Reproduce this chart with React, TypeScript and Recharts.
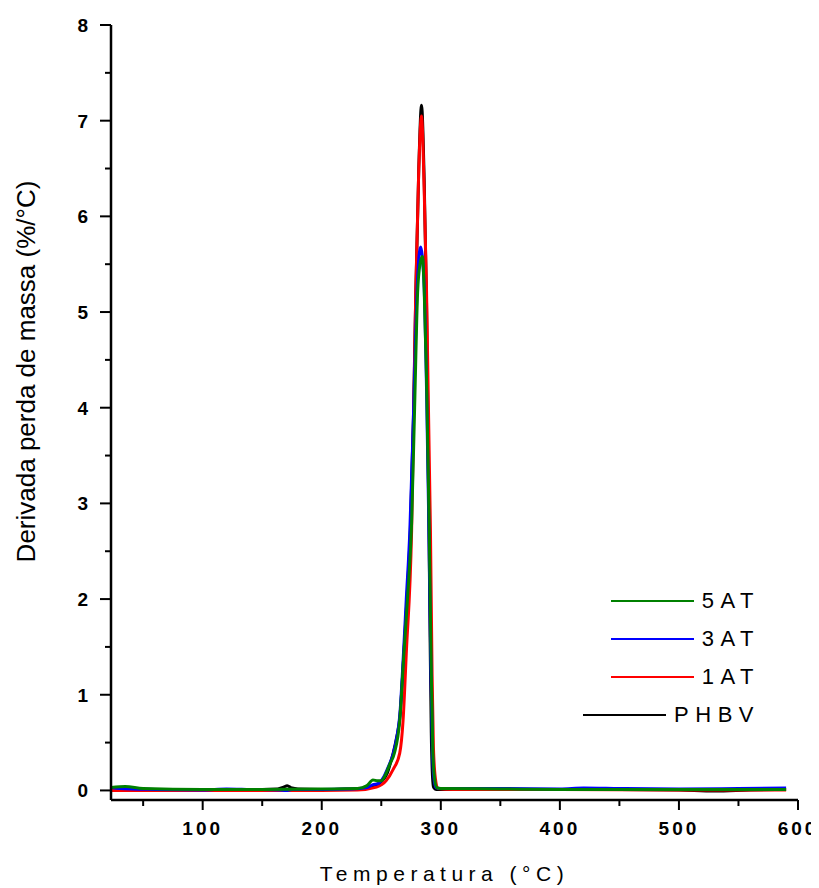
import React from "react";
import { LineChart, Line, XAxis, YAxis, Legend } from "recharts";

// ---------- data ----------
const phbvT = [23, 30, 50, 80, 100, 130, 150, 163, 168, 171, 175, 180, 200, 220, 235, 245, 250, 255, 258, 260, 263, 265.5, 269, 272, 274.5, 277, 279, 281.5, 283.8, 286, 288, 289, 290, 291, 292, 293, 294, 296, 300, 320, 350, 400, 450, 500, 530, 560, 590];
const phbvV = [0.02, 0.02, 0.01, 0.01, 0.01, 0.01, 0.01, 0.015, 0.035, 0.05, 0.025, 0.015, 0.01, 0.015, 0.02, 0.05, 0.09, 0.18, 0.3, 0.39, 0.56, 0.75, 1.43, 2.1, 2.75, 3.9, 5.2, 6.5, 7.16, 6.4, 5.1, 4.0, 2.8, 1.6, 0.6, 0.15, 0.03, 0.01, 0.01, 0.01, 0.01, 0.01, 0.01, 0.005, -0.005, 0.005, 0.01];

const at1T = [23, 50, 100, 150, 200, 230, 246, 254, 260, 265.5, 268.3, 271, 275.5, 279, 281.5, 283.8, 286, 288, 291.3, 292.7, 293.8, 295.5, 297.5, 310, 400, 500, 590];
const at1V = [0.0, 0.0, 0.0, 0.0, 0.0, 0.005, 0.035, 0.1, 0.22, 0.39, 0.73, 1.43, 2.72, 5.23, 6.5, 7.05, 6.3, 5.23, 2.72, 1.2, 0.45, 0.12, 0.02, 0.01, 0.01, 0.005, 0.005];

const at3T = [23, 30, 60, 100, 120, 140, 165, 170, 175, 200, 225, 238, 243, 247, 252, 256, 260, 263, 265.5, 268.5, 271, 274, 277, 280.4, 283, 285.8, 288, 290, 291.5, 293, 294.5, 296, 300, 350, 400, 420, 450, 500, 550, 590];
const at3V = [0.03, 0.02, 0.01, 0.005, 0.015, 0.01, 0.005, 0.0, 0.01, 0.01, 0.015, 0.03, 0.06, 0.07, 0.14, 0.25, 0.38, 0.55, 0.78, 1.4, 2.0, 2.72, 3.9, 5.33, 5.68, 5.33, 4.2, 2.72, 1.4, 0.4, 0.1, 0.03, 0.02, 0.02, 0.015, 0.025, 0.02, 0.015, 0.02, 0.025];

const at5T = [23, 35, 50, 100, 150, 200, 230, 238, 243, 247, 250, 253, 257, 261, 265.5, 269, 272, 275.5, 278, 280.5, 282.5, 284.5, 286, 288, 290.3, 291.8, 293.3, 295, 296.6, 300, 350, 400, 500, 590];
const at5V = [0.03, 0.04, 0.02, 0.01, 0.01, 0.015, 0.02, 0.05, 0.11, 0.1, 0.1, 0.15, 0.27, 0.39, 0.73, 1.43, 2.0, 2.8, 4.0, 5.2, 5.5, 5.58, 5.25, 4.3, 2.72, 1.4, 0.4, 0.1, 0.03, 0.02, 0.015, 0.01, 0.01, 0.01];

const xTicks = [50, 100, 150, 200, 250, 300, 350, 400, 450, 500, 550, 600];
const yTicks = [0, 0.5, 1, 1.5, 2, 2.5, 3, 3.5, 4, 4.5, 5, 5.5, 6, 6.5, 7, 7.5, 8];

const legendNames = ["5AT", "3AT", "1AT", "PHBV"];
const legendColors = ["#008000", "#0000ff", "#ff0000", "#000000"];

const toData = (t: number[], v: number[]) => t.map((x, i) => ({ t: x, v: v[i] }));

const seriesDraw = [
  { name: "PHBV", color: "#000000", data: toData(phbvT, phbvV) },
  { name: "1AT", color: "#ff0000", data: toData(at1T, at1V) },
  { name: "3AT", color: "#0000ff", data: toData(at3T, at3V) },
  { name: "5AT", color: "#008000", data: toData(at5T, at5V) },
];

const FONT = "'Liberation Sans', Arial, Helvetica, sans-serif";

const YTick = (props: any) => {
  const { x, y, payload } = props;
  const major = Number.isInteger(payload.value);
  return (
    <g>
      <line x1={x - (major ? 11 : 6)} x2={x} y1={y} y2={y} stroke="#000" strokeWidth={2} />
      {major && (
        <text x={x - 23} y={y} dy="0.36em" textAnchor="end" fontFamily={FONT} fontSize={19} fontWeight="bold" fill="#000">
          {payload.value}
        </text>
      )}
    </g>
  );
};

const XTick = (props: any) => {
  const { x, y, payload } = props;
  const major = payload.value % 100 === 0;
  return (
    <g>
      <line x1={x} x2={x} y1={y} y2={y + (major ? 10 : 6)} stroke="#000" strokeWidth={2} />
      {major && (
        <text x={x} y={y + 35} textAnchor="middle" fontFamily={FONT} fontSize={19} fontWeight="bold" letterSpacing={3} fill="#000">
          {payload.value}
        </text>
      )}
    </g>
  );
};

const YLabel = (props: any) => {
  const vb = props.viewBox || { x: 13, y: 17, width: 90, height: 775 };
  const cx = vb.x + 5;
  const cy = vb.y + vb.height / 2 - 41;
  return (
    <text x={cx} y={cy} transform={`rotate(-90, ${cx}, ${cy})`} textAnchor="middle" dominantBaseline="central" fontFamily={FONT} fontSize={26} fill="#000">
      Derivada perda de massa (%/°C)
    </text>
  );
};

const XLabel = (props: any) => {
  const vb = props.viewBox || { x: 103, y: 792, width: 687, height: 70 };
  const cx = vb.x + vb.width / 2 - 10;
  const cy = vb.y + 73;
  return (
    <text x={cx} y={cy} textAnchor="middle" dominantBaseline="central" fontFamily={FONT} fontSize={21} letterSpacing={5.5} fill="#000">
      Temperatura (°C)
    </text>
  );
};

const LegendContent = () => (
  <div style={{ fontFamily: FONT }}>
    {legendNames.map((n, i) => (
      <div key={n} style={{ display: "flex", justifyContent: "flex-end", alignItems: "center", height: 38 }}>
        <div style={{ width: 83, height: 0, borderTop: `2px solid ${legendColors[i]}`, marginRight: 8 }} />
        <span style={{ fontSize: 22, letterSpacing: 6.5, color: "#000", lineHeight: "22px" }}>{n}</span>
      </div>
    ))}
  </div>
);

export default function App() {
  return (
    <div style={{ width: 811, height: 880 }}>
      <LineChart width={811} height={880} margin={{ top: 17, right: 21, left: 13, bottom: 18 }}>
        <XAxis
          type="number"
          dataKey="t"
          domain={[23, 600]}
          allowDataOverflow
          ticks={xTicks}
          interval={0}
          tickSize={0}
          tickMargin={0}
          tickLine={false}
          tick={<XTick />}
          height={70}
          axisLine={{ stroke: "#000", strokeWidth: 2.5 }}
          label={XLabel}
        />
        <YAxis
          type="number"
          dataKey="v"
          domain={[-0.1, 8]}
          allowDataOverflow
          ticks={yTicks}
          interval={0}
          tickSize={0}
          tickMargin={0}
          tickLine={false}
          tick={<YTick />}
          width={90}
          axisLine={{ stroke: "#000", strokeWidth: 2.5 }}
          label={YLabel}
        />
        <Legend
          layout="vertical"
          align="center"
          verticalAlign="middle"
          content={<LegendContent />}
          wrapperStyle={{ position: "absolute", left: 556, top: 574, width: 196, height: 152 }}
        />
        {seriesDraw.map((s) => (
          <Line
            key={s.name}
            data={s.data}
            dataKey="v"
            name={s.name}
            type="monotone"
            stroke={s.color}
            strokeWidth={3}
            dot={false}
            activeDot={false}
            isAnimationActive={false}
          />
        ))}
      </LineChart>
    </div>
  );
}
